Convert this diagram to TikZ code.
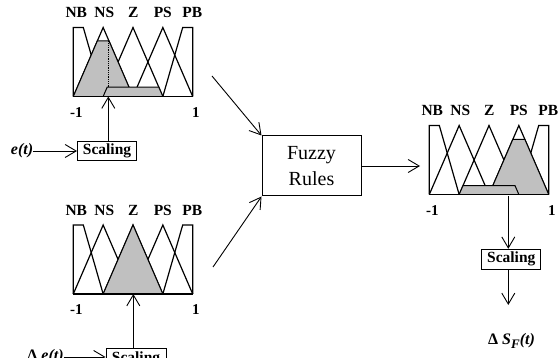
\documentclass[tikz,border=0pt]{standalone}
\usepackage{fontspec}
\setmainfont{Liberation Serif}
\usepackage{xcolor}
\usetikzlibrary{positioning, arrows.meta, calc}
\definecolor{mfshade}{HTML}{C0C0C0}

% membership sets NB..PB, local origin at bottom left of a panel
\newcommand{\mfpanel}[1]{%
  \draw[mfline] (29.85,0) -- (10,69) -- (0,69) -- (0,0);
  \draw[mfline] (89.55,0) -- (109.4,69) -- (119.4,69) -- (119.4,0);
  \foreach \c in {29.85,59.7,89.55}
    \draw[mfline] ({\c-29.85},0) -- (\c,69) -- ({\c+29.85},0);
  \foreach \n/\u in {NB/3,NS/31,Z/60,PS/89.5,PB/119}
    \node[setlbl] (#1\n) at (\u,84) {\n};
  \node[axlbl] (#1lo) at (3,-16) {-1};
  \node[axlbl] (#1hi) at (122.5,-16) {1};
}
% clipped set: centre, level
\newcommand{\mfcut}[2]{%
  \filldraw[cutfill] ({#1-29.85},0) -- ({#1-29.85+#2*29.85},{#2*69})
    -- ({#1+29.85-#2*29.85},{#2*69}) -- ({#1+29.85},0);
}
\newcommand{\mfbase}{\draw[mfline] (0,0) -- (119.4,0);}
\newcommand{\lowsub}[1]{\raisebox{-3.5pt}{\fontsize{13}{13}\selectfont #1}}

\begin{document}
\begin{tikzpicture}[x=1pt, y=-1pt,
    mfline/.style={line width=1.2pt},
    cutfill/.style={fill=mfshade, draw=black, line width=1pt},
    setlbl/.style={font=\fontsize{15.5}{15.5}\selectfont\bfseries, inner sep=0pt},
    axlbl/.style={font=\fontsize{15}{15}\selectfont\bfseries, inner sep=0pt},
    scalebox/.style={draw, line width=1pt, minimum width=59pt, minimum height=19pt,
                     inner sep=0pt, font=\fontsize{15.5}{15.5}\selectfont\bfseries},
    rulebox/.style={draw, line width=1pt, minimum width=99pt, minimum height=60pt,
                    align=center, font=\fontsize{20}{26}\selectfont},
    arrow/.style={-{Straight Barb[length=11pt,width=13pt]}, line width=0.9pt},
    sig/.style={font=\fontsize{16}{16}\selectfont\bfseries\itshape, inner sep=0pt}
  ]
  \useasboundingbox (0,0) rectangle (560,358);

  % error input
  \begin{scope}[shift={(73.3,96.5)}, yscale=-1]
    \mfpanel{e}
    \mfcut{29.85}{0.805}
    \mfcut{59.7}{0.135}
    \draw[densely dotted, line width=0.8pt] (35,9.3) -- (35,55.5);
    \mfbase
  \end{scope}
  \node[sig] (err) at (22,151) {e(t)};
  \node[scalebox] (errscale) at (107,151) {Scaling};
  \coordinate (errin) at (108.3,96.5);
  \draw[arrow] (err.east) -- (errscale.west);
  \draw[arrow] (errscale.north -| errin) -- (errin);

  % change of error input
  \begin{scope}[shift={(73.3,294)}, yscale=-1]
    \mfpanel{d}
    \mfcut{59.7}{1}
    \mfbase
  \end{scope}
  \node[sig] (derr) at (45.5,357) {\textup{Δ} e(t)};
  \node[scalebox, minimum width=60pt, minimum height=20pt] (dscale) at (136,358.5) {Scaling};
  \coordinate (derrin) at (133.3,294);
  \draw[arrow] (derr.east) -- (derr.east -| dscale.west);
  \draw[arrow] (dscale.north -| derrin) -- (derrin);

  % rule base
  \node[rulebox] (rules) at (311.5,166) {Fuzzy\\Rules};
  \coordinate (errout) at (212,76);
  \coordinate (derrout) at (213,267);
  \coordinate (outin) at (420,166);
  \draw[arrow] (errout) -- (rules.north west);
  \draw[arrow] (derrout) -- (rules.south west);
  \draw[arrow] (rules.east) -- (outin);

  % output
  \begin{scope}[shift={(429.3,194.5)}, yscale=-1]
    \mfpanel{o}
    \mfcut{89.55}{0.8}
    \mfcut{59.7}{0.13}
    \mfbase
  \end{scope}
  \coordinate (cog) at (508.3,196);
  \node[scalebox, minimum height=20pt] (outscale) at (511.3,259.3) {Scaling};
  \coordinate (outend) at (508.3,305);
  \draw[arrow] (cog) -- (cog |- outscale.north);
  \draw[arrow] (cog |- outscale.south) -- (outend);
  \node[sig] (dsf) at (511.5,341) {\textup{Δ} S\lowsub{F}(t)};
\end{tikzpicture}
\end{document}
